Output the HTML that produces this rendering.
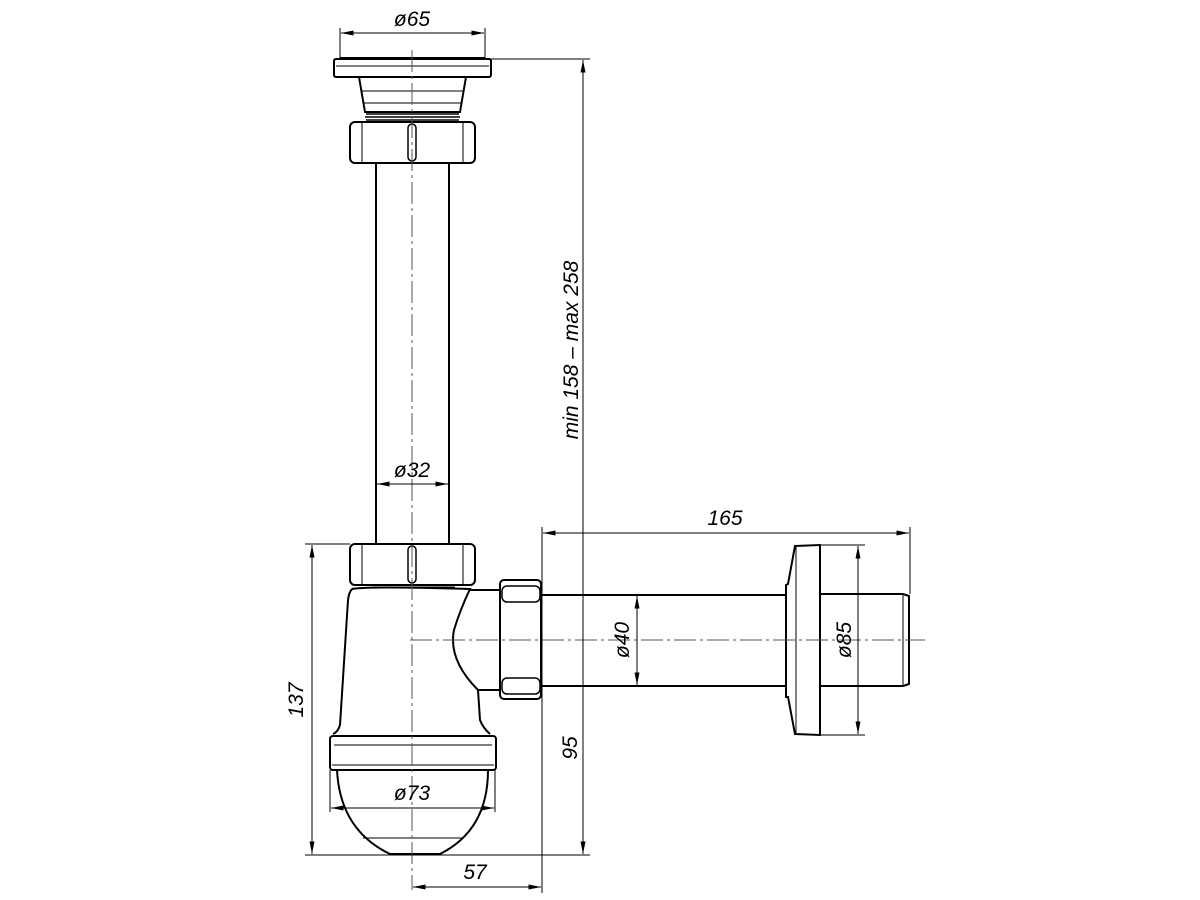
<!DOCTYPE html>
<html><head><style>html,body{margin:0;padding:0;background:#fff;}svg{display:block}</style></head>
<body>
<svg width="1200" height="900" viewBox="0 0 1200 900" xmlns="http://www.w3.org/2000/svg">
<defs>
<marker id="a" viewBox="0 0 10 4" refX="10" refY="2" markerWidth="14" markerHeight="5" orient="auto-start-reverse" markerUnits="userSpaceOnUse"><path d="M0,0 L10,2 L0,4z" fill="#000"/></marker>
</defs>
<g fill="none" stroke="#000" stroke-width="2">
<!-- top flange -->
<path d="M340,58 L485,58"/>
<rect x="334" y="59" width="157" height="18" rx="2"/>
<line x1="336" y1="66" x2="489" y2="66" stroke-width="1"/>
<path d="M359,77 L365,112 L460,112 L466,77"/>
<line x1="362" y1="91" x2="463" y2="91" stroke-width="1"/>
<line x1="364" y1="103" x2="461" y2="103" stroke-width="1"/>
<path d="M366,114 H459 M365,117 H460 M366,120 H459" stroke-width="1.5"/>
<!-- top nut -->
<rect x="350" y="122" width="125" height="41" rx="5"/>
<line x1="362" y1="123" x2="362" y2="162" stroke-width="1"/>
<line x1="463" y1="123" x2="463" y2="162" stroke-width="1"/>
<rect x="408" y="124" width="8" height="37" rx="4" stroke-width="1.5"/>
<!-- tube -->
<line x1="376" y1="163" x2="376" y2="544"/>
<line x1="449" y1="163" x2="449" y2="544"/>
<!-- lower nut -->
<rect x="350" y="544" width="125" height="41" rx="5"/>
<line x1="362" y1="545" x2="362" y2="584" stroke-width="1"/>
<line x1="463" y1="545" x2="463" y2="584" stroke-width="1"/>
<rect x="408" y="546" width="8" height="37" rx="4" stroke-width="1.5"/>
<line x1="372" y1="587" x2="455" y2="587" stroke-width="1"/>
<!-- body -->
<path d="M352,589 Q370,586 470,589 Q460,610 454,630 Q448,660 478,690 L480,720 Q483,728 490,734"/>
<path d="M352,589 Q349,592 348,600 L340,725 Q338,732 333,734"/>
<path d="M470,590 L500,590 M478,690 L500,690"/>
<!-- side nut -->
<rect x="500" y="580" width="41" height="119" rx="4"/>
<rect x="502" y="586" width="38" height="16" rx="5" stroke-width="1.5"/>
<rect x="502" y="678" width="38" height="16" rx="5" stroke-width="1.5"/>
<!-- horizontal pipe -->
<line x1="541" y1="595" x2="785" y2="595"/>
<line x1="541" y1="686" x2="785" y2="686"/>
<!-- wall flange -->
<path d="M795,546 L820,545 L820,735 L795,734 L788,697 L786,697 L786,585 L788,584 Z"/>
<line x1="796" y1="547" x2="796" y2="733" stroke-width="1"/>
<path d="M820,594 L903,594 L909,596 L909,684 L903,686 L820,686"/>
<line x1="903" y1="594" x2="903" y2="686" stroke-width="1"/>
<!-- cup -->
<rect x="330" y="736" width="166" height="34" rx="3"/>
<line x1="334" y1="745" x2="492" y2="745" stroke-width="1"/>
<line x1="332" y1="765" x2="494" y2="765" stroke-width="1"/>
<path d="M337,770 Q340,830 390,854 L440,854 Q488,830 488,770"/>
<line x1="363" y1="838" x2="462" y2="838" stroke-width="1"/>
</g>
<!-- center lines -->
<g stroke="#555" stroke-width="1" stroke-dasharray="22,4,3,4" fill="none">
<line x1="412" y1="50" x2="412" y2="890"/>
<line x1="410" y1="640" x2="925" y2="640"/>
</g>
<!-- dimensions -->
<g stroke="#000" stroke-width="1" fill="none">
<line x1="340" y1="28" x2="340" y2="58"/><line x1="485" y1="28" x2="485" y2="58"/>
<line x1="341" y1="33" x2="484" y2="33" marker-start="url(#a)" marker-end="url(#a)"/>
<line x1="491" y1="59" x2="590" y2="59"/>
<line x1="583" y1="60" x2="583" y2="854" marker-start="url(#a)" marker-end="url(#a)"/>
<line x1="377" y1="484" x2="448" y2="484" marker-start="url(#a)" marker-end="url(#a)"/>
<line x1="305" y1="544" x2="350" y2="544"/>
<line x1="312" y1="545" x2="312" y2="854" marker-start="url(#a)" marker-end="url(#a)"/>
<line x1="305" y1="855" x2="590" y2="855"/>
<line x1="542" y1="527" x2="542" y2="893"/>
<line x1="910" y1="527" x2="910" y2="594"/>
<line x1="543" y1="533" x2="909" y2="533" marker-start="url(#a)" marker-end="url(#a)"/>
<line x1="637" y1="596" x2="637" y2="685" marker-start="url(#a)" marker-end="url(#a)"/>
<line x1="820" y1="545" x2="865" y2="545"/><line x1="820" y1="735" x2="865" y2="735"/>
<line x1="858" y1="546" x2="858" y2="734" marker-start="url(#a)" marker-end="url(#a)"/>
<line x1="330" y1="770" x2="330" y2="812"/><line x1="495" y1="770" x2="495" y2="812"/>
<line x1="331" y1="808" x2="494" y2="808" marker-start="url(#a)" marker-end="url(#a)"/>
<line x1="413" y1="887" x2="541" y2="887" marker-start="url(#a)" marker-end="url(#a)"/>
</g>
<g font-family="Liberation Sans, sans-serif" font-size="21" font-style="italic" fill="#000" text-anchor="middle">
<text x="412" y="26">ø65</text>
<text x="412" y="477">ø32</text>
<text x="725" y="525">165</text>
<text x="412" y="800">ø73</text>
<text x="475" y="879">57</text>
<text transform="translate(578,350) rotate(-90)">min 158 – max 258</text>
<text transform="translate(303,700) rotate(-90)">137</text>
<text transform="translate(577,748) rotate(-90)">95</text>
<text transform="translate(629,640) rotate(-90)">ø40</text>
<text transform="translate(851,640) rotate(-90)">ø85</text>
</g>
</svg>
</body></html>
